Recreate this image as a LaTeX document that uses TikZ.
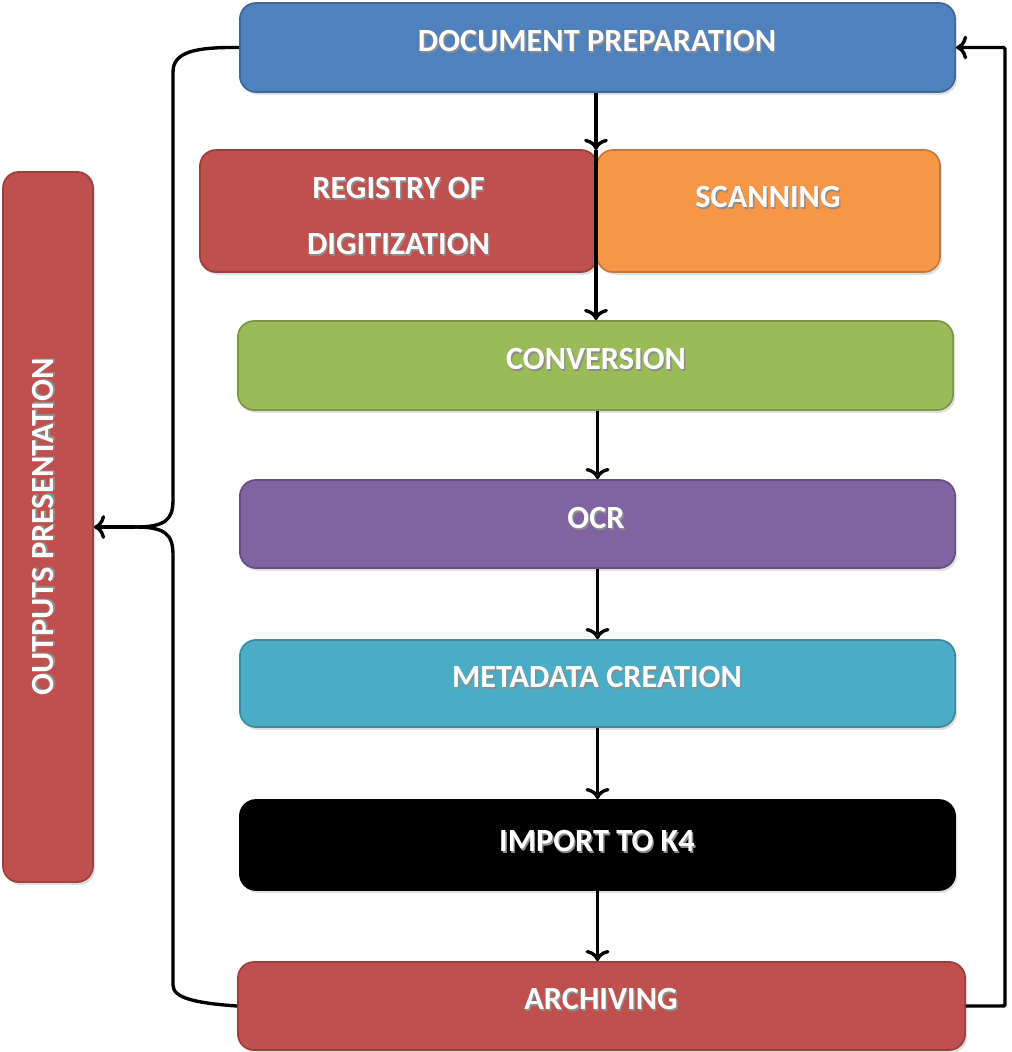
\documentclass[tikz,border=0pt]{standalone}
\usepackage{fontspec}
\setmainfont{Carlito}
\usetikzlibrary{arrows.meta,shadows}
\definecolor{cblue}{HTML}{4F81BD}
\definecolor{cred}{HTML}{C0504D}
\definecolor{corange}{HTML}{F79646}
\definecolor{cgreen}{HTML}{9BBB59}
\definecolor{cpurple}{HTML}{8064A2}
\definecolor{ccyan}{HTML}{4BACC6}
\newcommand\shtxt[1]{\rlap{\kern1pt\raisebox{-1pt}{\color{black!45}#1}}#1}
\tikzset{
  box/.style={rounded corners=0.4cm, draw=#1!80!black, line width=1.2pt, fill=#1,
    drop shadow={opacity=0.25, shadow xshift=1.5pt, shadow yshift=-2pt}},
  lbl/.style={text=white, font=\fontsize{23}{28}\selectfont\bfseries},
  arr/.style={line width=2.4pt, -{To[length=8pt,width=17pt,line width=2.4pt]}},
  conn/.style={line width=2.4pt},
}
\begin{document}
\begin{tikzpicture}[x=0.025cm,y=-0.025cm]
\useasboundingbox (0,0) rectangle (1012,1052);
\node[box=cblue, minimum width=17.875cm, minimum height=2.225cm] (doc) at (597.5,47.5) {};
\node[box=cred, minimum width=9.925cm, minimum height=3.05cm] (reg) at (398.5,211) {};
\node[box=corange, minimum width=8.575cm, minimum height=3.05cm] (scan) at (768.5,211) {};
\node[box=cgreen, minimum width=17.875cm, minimum height=2.225cm] (conv) at (595.5,365.5) {};
\node[box=cpurple, minimum width=17.875cm, minimum height=2.2cm] (ocr) at (597.5,524) {};
\node[box=ccyan, minimum width=17.875cm, minimum height=2.175cm] (meta) at (597.5,683.5) {};
\node[box=black, draw=black, minimum width=17.875cm, minimum height=2.25cm] (imp) at (597.5,845) {};
\node[box=cred, minimum width=18.175cm, minimum height=2.2cm] (arch) at (601.5,1006) {};
\node[box=cred, minimum width=2.25cm, minimum height=17.75cm] (out) at (48,527) {};
% labels
\node[lbl] (doct) at (597,42) {\shtxt{DOCUMENT PREPARATION}};
\node[lbl] (regt1) at (398.5,189) {\shtxt{REGISTRY OF}};
\node[lbl] (regt2) at (398.5,245) {\shtxt{DIGITIZATION}};
\node[lbl] (scant) at (768,198) {\shtxt{SCANNING}};
\node[lbl] (convt) at (596,360) {\shtxt{CONVERSION}};
\node[lbl] (ocrt) at (596,519) {\shtxt{OCR}};
\node[lbl] (metat) at (597,678) {\shtxt{METADATA CREATION}};
\node[lbl] (impt) at (597,842) {\shtxt{IMPORT TO K4}};
\node[lbl] (archt) at (601,1000) {\shtxt{ARCHIVING}};
\node[lbl, rotate=90] (outt) at (44,527) {\shtxt{OUTPUTS PRESENTATION}};
% vertical flow
\coordinate (j1) at (596,150);
\coordinate (j2) at (596,272);
\draw[arr] (doc.south -| j1) -- (j1);
\draw[conn] (j1) -- (j2);
\draw[arr] (j2) -- (j2 |- conv.north);
\draw[arr] (ocr.north |- conv.south) -- (ocr.north);
\draw[arr] (ocr.south) -- (meta.north);
\draw[arr] (meta.south) -- (imp.north);
\draw[arr] (imp.south) -- (imp.south |- arch.north);
% left brace connector
\coordinate (ltop) at (173,72);
\coordinate (lbot) at (173,985);
\coordinate (lmid) at (135,527);
\draw[conn] (doc.west) .. controls (195,47) and (173,52) .. (ltop) -- (173,500) .. controls (173,520) and (165,527) .. (lmid);
\draw[conn] (arch.west) .. controls (195,1003) and (173,998) .. (lbot) -- (173,555) .. controls (173,534) and (165,527) .. (lmid);
\draw[arr] (lmid) -- (out.east);
% right return connector
\coordinate (rc) at (1005,500);
\draw[arr, rounded corners=1pt] (arch.east) -- (arch.east -| rc) -- (doc.east -| rc) -- (doc.east);
\end{tikzpicture}
\end{document}
